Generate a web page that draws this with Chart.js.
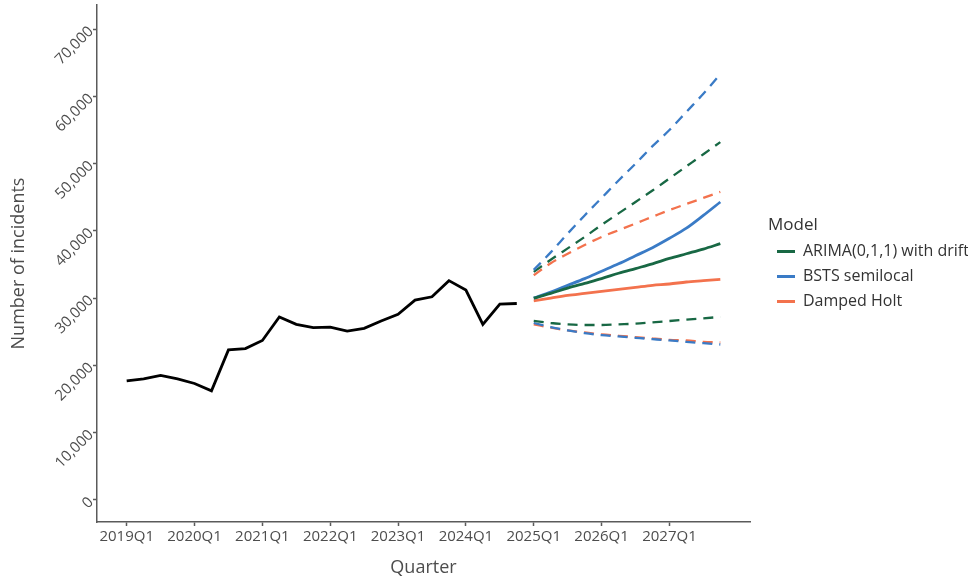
<!DOCTYPE html>
<html>
<head>
<meta charset="utf-8">
<script src="https://cdn.jsdelivr.net/npm/chart.js@4"></script>
<style>
  body { margin: 0; background: #fff; }
  #wrap { width: 974px; height: 585px; }
</style>
</head>
<body>
<div id="wrap"><canvas id="chart" width="974" height="585"></canvas></div>
<script>
// quarters 2019Q1 .. 2027Q4
const quarters = [];
for (let y = 2019; y <= 2027; y++) for (let q = 1; q <= 4; q++) quarters.push(y + 'Q' + q);

const tickLabels = ['2019Q1', '2020Q1', '2021Q1', '2022Q1', '2023Q1', '2024Q1', '2025Q1', '2026Q1', '2027Q1'];
const yTicks = [0, 10000, 20000, 30000, 40000, 50000, 60000, 70000];

// observed incidents 2019Q1 - 2024Q4
const observed = [17700, 18000, 18500, 18000, 17300, 16200, 22300, 22500, 23700, 27200, 26100, 25600,
  25700, 25100, 25500, 26600, 27600, 29700, 30200, 32600, 31200, 26100, 29100, 29200];

// forecasts 2025Q1 - 2027Q4
const forecastStart = '2025Q1';
const arimaMean  = [30000, 30700, 31500, 32200, 32900, 33700, 34400, 35100, 35900, 36600, 37300, 38100];
const arimaUpper = [33900, 35700, 37400, 39100, 40900, 42600, 44300, 46000, 47800, 49600, 51400, 53200];
const arimaLower = [26600, 26300, 26100, 26000, 26000, 26100, 26200, 26400, 26600, 26800, 27000, 27200];
const bstsMean   = [30000, 30900, 31900, 32900, 34000, 35100, 36300, 37500, 38900, 40400, 42300, 44300];
const bstsUpper  = [34200, 36800, 39600, 42300, 44900, 47500, 50000, 52600, 55000, 57700, 60400, 63300];
const bstsLower  = [26300, 25700, 25200, 24800, 24500, 24300, 24100, 23900, 23700, 23500, 23300, 23100];
const holtMean   = [29600, 30000, 30400, 30700, 31000, 31300, 31600, 31900, 32100, 32400, 32600, 32800];
const holtUpper  = [33400, 35200, 36600, 37900, 39100, 40100, 41100, 42100, 43100, 44000, 44900, 45800];
const holtLower  = [26100, 25600, 25200, 24900, 24600, 24400, 24200, 24000, 23800, 23700, 23500, 23400];

const GREEN = '#186844';
const BLUE = '#3a7bc6';
const ORANGE = '#f3724d';
const AXIS = '#5a5a5a';
const TEXT = '#4d4d4d';
const FONT = "'Open Sans', 'DejaVu Sans', sans-serif";

const startIdx = quarters.indexOf(forecastStart);
const pts = (vals, offset) => vals.map((v, i) => ({ x: offset + i, y: v }));

function series(label, vals, color, dashed, legend) {
  return {
    label: label,
    data: pts(vals, startIdx),
    borderColor: color,
    backgroundColor: color,
    borderWidth: dashed ? 2.3 : 2.8,
    borderDash: dashed ? [10, 7] : [],
    pointRadius: 0,
    cubicInterpolationMode: 'monotone',
    inLegend: legend
  };
}

const datasets = [
  { label: 'Observed', data: pts(observed, 0), borderColor: '#000', backgroundColor: '#000',
    borderWidth: 2.8, pointRadius: 0, tension: 0, inLegend: false },
  series('BSTS upper', bstsUpper, BLUE, true, false),
  series('ARIMA upper', arimaUpper, GREEN, true, false),
  series('Holt upper', holtUpper, ORANGE, true, false),
  series('ARIMA lower', arimaLower, GREEN, true, false),
  series('BSTS lower', bstsLower, BLUE, true, false),
  series('Holt lower', holtLower, ORANGE, true, false),
  series('ARIMA(0,1,1) with drift', arimaMean, GREEN, false, true),
  series('BSTS semilocal', bstsMean, BLUE, false, true),
  series('Damped Holt', holtMean, ORANGE, false, true)
];

new Chart(document.getElementById('chart'), {
  type: 'line',
  data: { datasets: datasets },
  options: {
    responsive: false,
    animation: false,
    devicePixelRatio: 1,
    layout: { padding: { left: 4, top: 5, right: 6, bottom: 3 } },
    plugins: {
      tooltip: { enabled: false },
      legend: {
        position: 'right',
        align: 'center',
        fullSize: false,
        maxWidth: 200,
        title: { display: true, text: 'Model', color: '#333', font: { family: FONT, size: 17, lineHeight: 1 }, position: 'start', padding: { top: 8, bottom: 1 } },
        labels: {
          boxWidth: 18,
          boxHeight: 3,
          padding: 9,
          color: '#333',
          font: { family: FONT, size: 16 },
          generateLabels: (chart) => chart.data.datasets
            .map((d, i) => ({ d, i }))
            .filter(o => o.d.inLegend)
            .map(o => ({ text: o.d.label, fillStyle: o.d.borderColor, strokeStyle: o.d.borderColor,
              lineWidth: 0, hidden: false, datasetIndex: o.i, fontColor: '#333' }))
        }
      }
    },
    scales: {
      x: {
        type: 'linear',
        min: -1.75,
        max: 36.75,
        afterFit: (s) => { s.height = 60; s.paddingLeft = 0; s.paddingRight = 0; },
        afterBuildTicks: (s) => { s.ticks = tickLabels.map(t => ({ value: quarters.indexOf(t) })); },
        grid: { display: true, drawOnChartArea: false, drawTicks: true, tickLength: 4, color: AXIS, tickWidth: 1.5 },
        border: { display: true, color: AXIS, width: 1.5 },
        ticks: {
          autoSkip: false, maxRotation: 0, padding: 2, color: TEXT,
          font: { family: FONT, size: 15 },
          callback: (v) => quarters[v]
        },
        title: { display: true, text: 'Quarter', color: TEXT, font: { family: FONT, size: 18 }, padding: { top: 4, bottom: 3 } }
      },
      y: {
        min: -3300,
        max: 73600,
        afterFit: (s) => { s.width = 93; s.paddingTop = 0; s.paddingBottom = 0; },
        afterBuildTicks: (s) => { s.ticks = yTicks.map(v => ({ value: v })); },
        grid: { display: true, drawOnChartArea: false, drawTicks: true, tickLength: 4, color: AXIS, tickWidth: 1.5 },
        border: { display: true, color: AXIS, width: 1.5 },
        ticks: {
          minRotation: 45, maxRotation: 45, padding: 2, color: TEXT,
          font: { family: FONT, size: 15 },
          callback: (v) => v.toLocaleString('en-US')
        },
        title: { display: true, text: 'Number of incidents', color: TEXT, font: { family: FONT, size: 18 }, padding: { top: 4, bottom: 4 } }
      },
      // empty spacer between plot panel and legend
      gap: {
        type: 'linear',
        position: 'right',
        display: true,
        afterFit: (s) => { s.width = 18; },
        grid: { display: false },
        border: { display: false },
        ticks: { display: false }
      }
    }
  }
});
</script>
</body>
</html>
